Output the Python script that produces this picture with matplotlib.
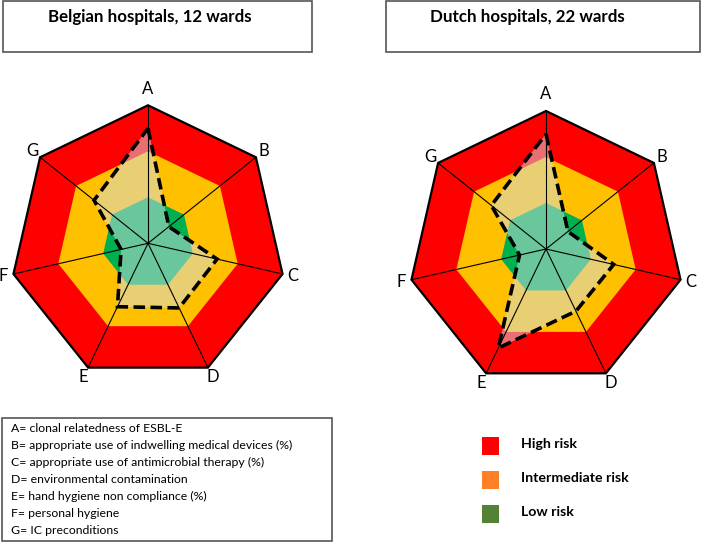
import numpy as np
import matplotlib.pyplot as plt
from matplotlib.patches import Rectangle, Polygon

plt.rcParams['font.family'] = ['Lato', 'DejaVu Sans']

# axes A..G, scores on a 0-3 risk scale (0-1 low, 1-2 intermediate, 2-3 high)
axis_labels = ['A', 'B', 'C', 'D', 'E', 'F', 'G']
belgian = [2.50, 0.58, 1.54, 1.56, 1.53, 0.60, 1.50]
dutch = [2.50, 0.61, 1.51, 1.50, 2.39, 0.59, 1.52]

titles = ['Belgian hospitals, 12 wards', 'Dutch hospitals, 22 wards']

definitions = [
    'A= clonal relatedness of ESBL-E',
    'B= appropriate use of indwelling medical devices (%)',
    'C= appropriate use of antimicrobial therapy (%)',
    'D= environmental contamination',
    'E= hand hygiene non compliance (%)',
    'F= personal hygiene',
    'G= IC preconditions',
]

risk_labels = ['High risk', 'Intermediate risk', 'Low risk']
risk_colors = ['#FF0000', '#FF7F27', '#548235']

band_edges = [3, 2, 1]
band_colors = ['#FF0000', '#FFC000', '#00B050']

W, H = 708, 544
fig = plt.figure(figsize=(W / 100, H / 100), dpi=100)

# overlay axes in pixel units for boxes / text
bg = fig.add_axes([0, 0, 1, 1])
bg.set_xlim(0, W)
bg.set_ylim(H, 0)
bg.axis('off')

ang = np.pi / 2 - np.arange(7) * 2 * np.pi / 7


def xy(vals):
    v = np.asarray(vals, dtype=float)
    return np.column_stack([v * np.cos(ang), v * np.sin(ang)])


def radar(cx, cy, values):
    px = 46.0  # pixels per unit
    half = 3.6 * px
    ax = fig.add_axes([(cx - half) / W, (H - cy - half) / H, 2 * half / W, 2 * half / H])
    ax.set_xlim(-3.6, 3.6)
    ax.set_ylim(-3.6, 3.6)
    ax.set_aspect('equal')
    ax.axis('off')
    for r, c in zip(band_edges, band_colors):
        ax.add_patch(Polygon(xy([r] * 7), closed=True, facecolor=c, edgecolor='none', zorder=1))
    ax.add_patch(Polygon(xy([3] * 7), closed=True, facecolor='none', edgecolor='black', lw=1.6, zorder=4))
    for x, y in xy([3] * 7):
        ax.plot([0, x], [0, y], color='black', lw=0.8, zorder=3)
    ax.add_patch(Polygon(xy(values), closed=True, facecolor=(0.83, 0.87, 0.9), alpha=0.5,
                         edgecolor='none', zorder=2))
    ax.add_patch(Polygon(xy(values), closed=True, facecolor='none', edgecolor='black',
                         lw=2.6, linestyle=(0, (3.2, 1.5)), zorder=5))
    for lab, (x, y), k in zip(axis_labels, xy([3] * 7), range(7)):
        f = 1.12 if k == 0 else 1.075
        ax.text(x * f, y * f, lab, ha='center', va='center', fontsize=12, clip_on=False)
    return ax


radar(148, 243.3, belgian)
radar(546, 249, dutch)

# title boxes
bg.add_patch(Rectangle((3, 0.5), 309, 51, facecolor='white', edgecolor='#555555', lw=1.2))
bg.add_patch(Rectangle((386, 0.5), 314, 51, facecolor='white', edgecolor='#555555', lw=1.2))
bg.text(150, 17, titles[0], ha='center', va='center', fontsize=12.2, fontweight='bold')
bg.text(527, 17, titles[1], ha='center', va='center', fontsize=12.2, fontweight='bold')

# definitions box
bg.add_patch(Rectangle((1.5, 418), 330, 123, facecolor='white', edgecolor='#555555', lw=1.2))
for i, t in enumerate(definitions):
    bg.text(11, 429 + i * 16.9, t, ha='left', va='center', fontsize=8.8)

# risk legend
for i, (lab, c) in enumerate(zip(risk_labels, risk_colors)):
    yc = 446 + i * 34
    bg.add_patch(Rectangle((482, yc - 9), 17, 18, facecolor=c, edgecolor='none'))
    bg.text(521, yc - 1.5, lab, ha='left', va='center', fontsize=10.2, fontweight='bold')

fig.savefig('out.png', dpi=100)
